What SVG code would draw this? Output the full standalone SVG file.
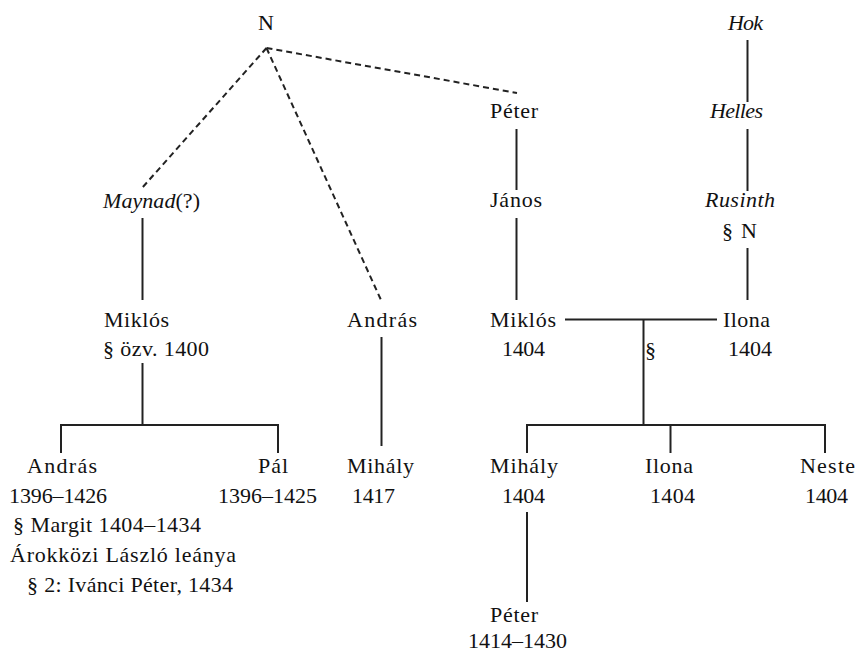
<svg xmlns="http://www.w3.org/2000/svg" width="856" height="653" viewBox="0 0 856 653">
<style>
text{font-family:"Liberation Serif","Times New Roman",serif;font-size:22px;fill:#111}
.i{font-style:italic}
.c line,.c path{stroke:#222;stroke-width:2;fill:none}
.c .d{stroke-dasharray:6 4}
</style>
<rect width="856" height="653" fill="#fff"/>
<g class="c" id="connectors">
<line class="d" x1="266.5" y1="48" x2="142" y2="188"/>
<line class="d" x1="266.5" y1="48" x2="381" y2="300"/>
<line class="d" x1="266.5" y1="48" x2="517" y2="93"/>
<line x1="142.5" y1="218" x2="142.5" y2="300"/>
<line x1="142.5" y1="363" x2="142.5" y2="425"/>
<path d="M61,453V425H278V453"/>
<line x1="381.5" y1="337" x2="381.5" y2="446"/>
<line x1="516.5" y1="129" x2="516.5" y2="190"/>
<line x1="516.5" y1="218" x2="516.5" y2="300"/>
<line x1="747.5" y1="40" x2="747.5" y2="102"/>
<line x1="747.5" y1="129" x2="747.5" y2="191"/>
<line x1="747.5" y1="248" x2="747.5" y2="300"/>
<line x1="565" y1="319.5" x2="717" y2="319.5"/>
<line x1="643.5" y1="319.5" x2="643.5" y2="425"/>
<path d="M527,453V425H825V453"/>
<line x1="670.5" y1="425" x2="670.5" y2="453"/>
<line x1="527" y1="512" x2="527" y2="602"/>
</g>
<g id="n-N"><text x="266" y="30" text-anchor="middle">N</text></g>
<g id="n-maynad"><text x="103" y="208" textLength="97"><tspan class="i">Maynad</tspan>(?)</text></g>
<g id="n-miklos-l"><text x="104" y="327" textLength="65">Miklós</text><text x="103" y="356" textLength="106">§ özv. 1400</text></g>
<g id="n-andras-m"><text x="347" y="327" textLength="70">András</text></g>
<g id="n-peter-t"><text x="490" y="118" textLength="48">Péter</text></g>
<g id="n-janos"><text x="490" y="207" textLength="52">János</text></g>
<g id="n-hok"><text class="i" x="728" y="30" textLength="35">Hok</text></g>
<g id="n-helles"><text class="i" x="710" y="118" textLength="53">Helles</text></g>
<g id="n-rusinth"><text class="i" x="705" y="207" textLength="70">Rusinth</text><text x="722" y="238" textLength="35">§ N</text></g>
<g id="n-miklos-r"><text x="490" y="327" textLength="66">Miklós</text><text x="502" y="356" textLength="43">1404</text></g>
<g id="n-ilona-r"><text x="723" y="327" textLength="47">Ilona</text><text x="728" y="356" textLength="44">1404</text></g>
<g id="n-marriage"><text x="645" y="357">§</text></g>
<g id="n-andras-l"><text x="27" y="473" textLength="70">András</text><text x="9" y="503" textLength="98">1396–1426</text><text x="13" y="532" textLength="188">§ Margit 1404–1434</text><text x="10" y="562" textLength="226">Árokközi László leánya</text><text x="27" y="592" textLength="206">§ 2: Ivánci Péter, 1434</text></g>
<g id="n-pal"><text x="258" y="473" textLength="30">Pál</text><text x="218" y="503" textLength="99">1396–1425</text></g>
<g id="n-mihaly-m"><text x="347" y="473" textLength="67">Mihály</text><text x="352" y="503" textLength="43">1417</text></g>
<g id="n-mihaly-r"><text x="490" y="473" textLength="68">Mihály</text><text x="502" y="503" textLength="43">1404</text></g>
<g id="n-ilona-c"><text x="645" y="473" textLength="48">Ilona</text><text x="650" y="503" textLength="45">1404</text></g>
<g id="n-neste"><text x="800" y="473" textLength="55">Neste</text><text x="805" y="503" textLength="43">1404</text></g>
<g id="n-peter-b"><text x="490" y="622" textLength="48">Péter</text><text x="468" y="648" textLength="99">1414–1430</text></g>
</svg>
